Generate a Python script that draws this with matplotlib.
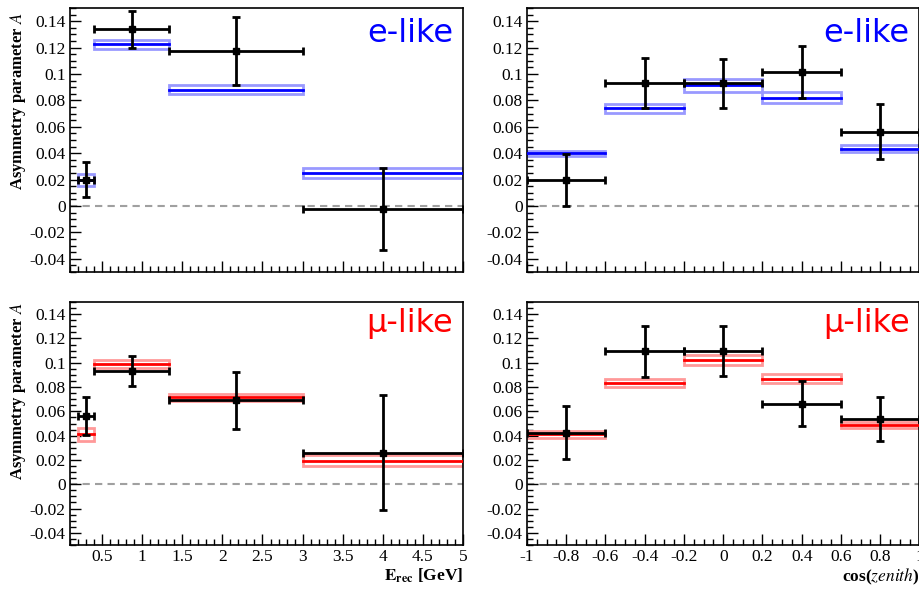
import matplotlib
matplotlib.use("Agg")
import matplotlib.pyplot as plt
from matplotlib.patches import Rectangle
from matplotlib.ticker import MultipleLocator

plt.rcParams["font.family"] = "Liberation Serif"
plt.rcParams["mathtext.fontset"] = "stix"
plt.rcParams["xtick.direction"] = "in"
plt.rcParams["ytick.direction"] = "in"

# energy binning (GeV)
energy_edges = [0.2, 0.4, 1.33, 3.0, 5.0]
energy_x = [0.30, 0.87, 2.17, 4.0]
# cos(zenith) binning
cos_edges = [-1.0, -0.6, -0.2, 0.2, 0.6, 1.0]
cos_x = [-0.8, -0.4, 0.0, 0.4, 0.8]

# e-like vs energy
e_E_data = [0.020, 0.134, 0.1175, -0.002]
e_E_err = [0.0135, 0.014, 0.0255, 0.031]
e_E_mc = [0.020, 0.1225, 0.088, 0.025]
e_E_mcerr = [0.0045, 0.0035, 0.0035, 0.004]

# e-like vs cos(zenith)
e_cos_data = [0.0196, 0.093, 0.093, 0.1016, 0.0564]
e_cos_err = [0.0196, 0.019, 0.0185, 0.0198, 0.0206]
e_cos_mc = [0.040, 0.074, 0.0915, 0.082, 0.0435]
e_cos_mcerr = [0.002, 0.0035, 0.0048, 0.004, 0.0028]

# mu-like vs energy
mu_E_data = [0.056, 0.093, 0.069, 0.026]
mu_E_err = [0.0155, 0.0125, 0.0237, 0.0473]
mu_E_mc = [0.041, 0.099, 0.0715, 0.0195]
mu_E_mcerr = [0.005, 0.003, 0.003, 0.0042]

# mu-like vs cos(zenith)
mu_cos_data = [0.0424, 0.1094, 0.1099, 0.0662, 0.0536]
mu_cos_err = [0.022, 0.021, 0.0205, 0.0185, 0.018]
mu_cos_mc = [0.041, 0.083, 0.1025, 0.087, 0.049]
mu_cos_mcerr = [0.0027, 0.0033, 0.004, 0.0038, 0.0025]


def draw_panel(ax, edges, xs, data, err, mc, mcerr, color, light):
    for i in range(len(mc)):
        lo, hi = edges[i], edges[i + 1]
        ax.add_patch(Rectangle((lo, mc[i] - mcerr[i]), hi - lo, 2 * mcerr[i],
                               fc="none", ec=light, lw=2.0, zorder=2))
        ax.plot([lo, hi], [mc[i], mc[i]], color=color, lw=2.0, zorder=3)
    xlo = [x - edges[i] for i, x in enumerate(xs)]
    xhi = [edges[i + 1] - x for i, x in enumerate(xs)]
    ax.errorbar(xs, data, yerr=err, xerr=[xlo, xhi], fmt="s", color="black",
                ms=5, lw=2, capsize=3, capthick=2, zorder=5)
    ax.axhline(0, color="#a0a0a0", lw=1.5, ls=(0, (3.5, 2.5)), zorder=1)
    ax.set_ylim(-0.05, 0.15)
    ax.yaxis.set_major_locator(MultipleLocator(0.02))
    ax.yaxis.set_minor_locator(MultipleLocator(0.005))
    ax.yaxis.set_major_formatter(plt.FuncFormatter(lambda v, p: f"{v:g}" if abs(v) > 1e-9 else "0"))
    ax.tick_params(which="major", length=8, width=1, labelsize=12.5, pad=3)
    ax.tick_params(which="minor", length=4, width=1)
    ax.tick_params(top=False, right=False, which="both")
    for sp in ax.spines.values():
        sp.set_linewidth(1.2)


fig = plt.figure(figsize=(9.2, 5.9), dpi=100)
W, H = 920.0, 590.0
lx0, lx1 = 70 / W, 463 / W
rx0, rx1 = 527 / W, 919.5 / W
ty0, ty1 = 1 - 272 / H, 1 - 8 / H
by0, by1 = 1 - 545 / H, 1 - 302 / H

ax_eE = fig.add_axes([lx0, ty0, lx1 - lx0, ty1 - ty0])
ax_ec = fig.add_axes([rx0, ty0, rx1 - rx0, ty1 - ty0])
ax_mE = fig.add_axes([lx0, by0, lx1 - lx0, by1 - by0])
ax_mc = fig.add_axes([rx0, by0, rx1 - rx0, by1 - by0])

draw_panel(ax_eE, energy_edges, energy_x, e_E_data, e_E_err, e_E_mc, e_E_mcerr, "#0000ff", "#9999ff")
draw_panel(ax_ec, cos_edges, cos_x, e_cos_data, e_cos_err, e_cos_mc, e_cos_mcerr, "#0000ff", "#9999ff")
draw_panel(ax_mE, energy_edges, energy_x, mu_E_data, mu_E_err, mu_E_mc, mu_E_mcerr, "#ff0000", "#ff9999")
draw_panel(ax_mc, cos_edges, cos_x, mu_cos_data, mu_cos_err, mu_cos_mc, mu_cos_mcerr, "#ff0000", "#ff9999")

for ax in (ax_eE, ax_mE):
    ax.set_xlim(0.1, 5.0)
    ax.xaxis.set_major_locator(MultipleLocator(0.5))
    ax.xaxis.set_minor_locator(MultipleLocator(0.1))
for ax in (ax_ec, ax_mc):
    ax.set_xlim(-1.0, 1.0)
    ax.xaxis.set_major_locator(MultipleLocator(0.2))
    ax.xaxis.set_minor_locator(MultipleLocator(0.05))
for ax in (ax_mE, ax_mc):
    ax.xaxis.set_major_formatter(plt.FuncFormatter(lambda v, p: f"{v:g}" if abs(v) > 1e-9 else "0"))
for ax in (ax_eE, ax_ec):
    ax.tick_params(labelbottom=False)

ax_mE.set_xlabel(r"$\mathbf{E}_{\mathbf{rec}}$ [GeV]", loc="right", fontweight="bold",
                 fontsize=12.5, labelpad=1)
ax_mc.set_xlabel(r"cos($\mathit{zenith}$)", loc="right", fontweight="bold",
                 fontsize=12.5, labelpad=1)

for ax in (ax_eE, ax_ec):
    ax.text(0.975, 0.87, "e-like", color="#0000ff", fontsize=23, family="DejaVu Sans",
            ha="right", va="baseline", transform=ax.transAxes)
for ax in (ax_mE, ax_mc):
    ax.text(0.975, 0.878, "μ-like", color="#ff0000", fontsize=23, family="DejaVu Sans",
            ha="right", va="baseline", transform=ax.transAxes)

for ytop in (1 - 12 / H, 1 - 302 / H):
    fig.text(18 / W, ytop, r"Asymmetry parameter $A$", rotation=90, fontweight="bold",
             fontsize=12, ha="center", va="top")

fig.savefig("out.png", dpi=100)
